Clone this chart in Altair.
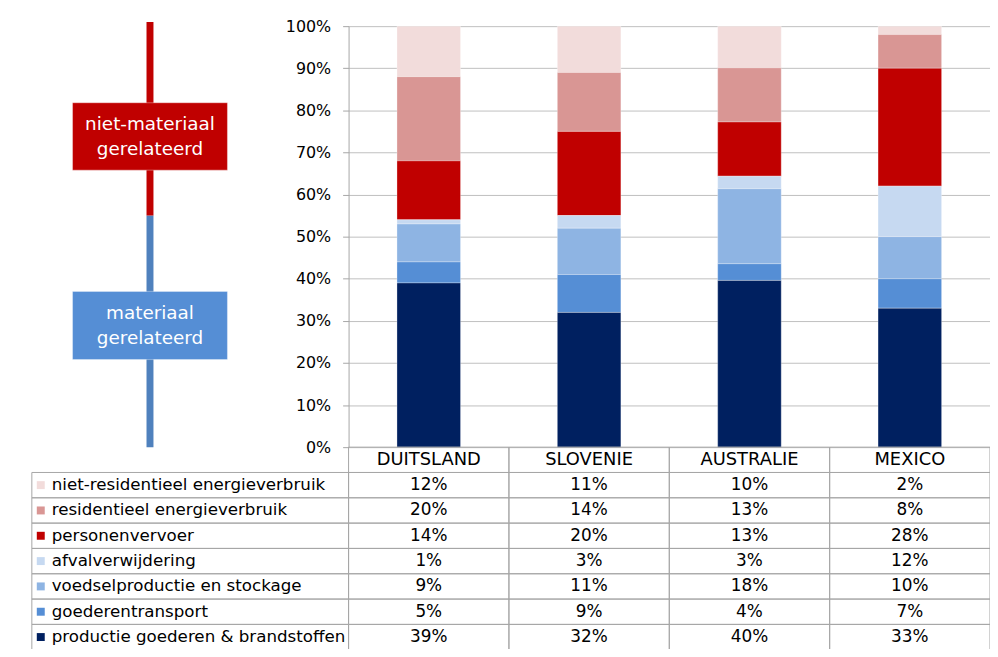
import altair as alt
import pandas as pd

FONT = "DejaVu Sans"

# ---- data -------------------------------------------------------------
countries = ["DUITSLAND", "SLOVENIE", "AUSTRALIE", "MEXICO"]
categories = [
    "niet-residentieel energieverbruik",
    "residentieel energieverbruik",
    "personenvervoer",
    "afvalverwijdering",
    "voedselproductie en stockage",
    "goederentransport",
    "productie goederen & brandstoffen",
]
colors = ["#F2DCDB", "#D99694", "#C00000", "#C6D9F1", "#8EB4E3", "#558ED5", "#002060"]

duitsland = [12, 20, 14, 1, 9, 5, 39]
slovenie = [11, 14, 20, 3, 11, 9, 32]
australie = [10, 13, 13, 3, 18, 4, 40]
mexico = [2, 8, 28, 12, 10, 7, 33]
shares = {"DUITSLAND": duitsland, "SLOVENIE": slovenie, "AUSTRALIE": australie, "MEXICO": mexico}

# left-hand grouping annotation (in share-of-total units)
group_text = ["materiaal\ngerelateerd", "niet-materiaal\ngerelateerd"]
group_line_from = [0.0, 0.55]
group_line_to = [0.55, 1.01]
group_box_from = [0.208, 0.658]
group_box_to = [0.37, 0.818]
group_line_color = ["#4F81BD", "#C00000"]
group_box_color = ["#558ED5", "#C00000"]

HEADER = "LAND"  # key of the table's header row (country names)

# ---- tables -------------------------------------------------------------
rows = []
for c in countries:
    for i, cat in enumerate(categories):
        v = shares[c][i]
        rows.append({"land": c, "categorie": cat, "waarde": v, "label": f"{v}%",
                     "volgorde": len(categories) - 1 - i})
df = pd.DataFrame(rows)
legend_df = pd.DataFrame({"categorie": categories})
header_df = pd.DataFrame({"land": countries, "categorie": [HEADER] * len(countries)})
groups_df = pd.DataFrame({
    "tekst": group_text, "lijn_van": group_line_from, "lijn_tot": group_line_to,
    "box_van": group_box_from, "box_tot": group_box_to,
    "box_mid": [(a + b) / 2 for a, b in zip(group_box_from, group_box_to)],
    "lijnkleur": group_line_color, "boxkleur": group_box_color,
})

GRID = "#C0C0C0"
LINE = "#A6A6A6"

x_scale = alt.Scale(domain=countries, paddingInner=0, paddingOuter=0)
y_scale = alt.Scale(domain=[0, 1])
y_axis = alt.Axis(title=None, values=[i / 10 for i in range(11)], format=".0%", grid=True,
                  gridColor=GRID, tickColor=LINE, domainColor=LINE, tickSize=6, labelPadding=12,
                  labelFontSize=16, labelFont=FONT, labelColor="black")
color_scale = alt.Scale(domain=categories, range=colors)

bars = alt.Chart(df).mark_bar(size=64, stroke="white", strokeWidth=0.5, strokeOpacity=0.6).encode(
    x=alt.X("land:N", sort=countries, scale=x_scale, axis=None),
    y=alt.Y("waarde:Q", stack="normalize", scale=y_scale, axis=y_axis),
    color=alt.Color("categorie:N", scale=color_scale, legend=None),
    order=alt.Order("volgorde:Q", sort="ascending"),
)

group_lines = alt.Chart(groups_df).mark_rule(strokeWidth=7).encode(
    x=alt.value(-200),
    y=alt.Y("lijn_van:Q", scale=y_scale, axis=y_axis),
    y2="lijn_tot:Q",
    stroke=alt.Stroke("lijnkleur:N", scale=None),
)
group_boxes = alt.Chart(groups_df).mark_rect(stroke="white", strokeWidth=1, strokeOpacity=0.35).encode(
    x=alt.value(-278), x2=alt.value(-122),
    y=alt.Y("box_van:Q", scale=y_scale, axis=y_axis),
    y2="box_tot:Q",
    fill=alt.Fill("boxkleur:N", scale=None),
)
group_labels = alt.Chart(groups_df).mark_text(
    color="white", font=FONT, fontSize=18.5, lineBreak="\n", lineHeight=26,
    align="center", baseline="middle", dy=-13).encode(
    x=alt.value(-200),
    y=alt.Y("box_mid:Q", scale=y_scale, axis=y_axis),
    text="tekst:N",
)

top = alt.layer(bars, group_lines, group_boxes, group_labels)

# ---- data table below the plot ------------------------------------------
t_domain = [HEADER] + categories
t_scale = alt.Scale(type="band", domain=t_domain, range=[424, 628], paddingInner=0, paddingOuter=0)
t_y = alt.Y("categorie:N", sort=t_domain, scale=t_scale, axis=None)
t_x = alt.X("land:N", sort=countries, scale=x_scale, axis=None)

header_cells = alt.Chart(header_df).mark_rect(fillOpacity=0, stroke=LINE, strokeWidth=1).encode(x=t_x, y=t_y)
header_text = alt.Chart(header_df).mark_text(font=FONT, fontSize=18, color="black", baseline="middle").encode(
    x=t_x, y=t_y, text="land:N")
value_cells = alt.Chart(df).mark_rect(fillOpacity=0, stroke=LINE, strokeWidth=1).encode(x=t_x, y=t_y)
label_cells = alt.Chart(legend_df).mark_rect(fillOpacity=0, stroke=LINE, strokeWidth=1).encode(
    x=alt.value(-319), x2=alt.value(0), y=t_y)
value_text = alt.Chart(df).mark_text(font=FONT, fontSize=17, color="black", baseline="middle").encode(
    x=t_x, y=t_y, text="label:N")
label_text = alt.Chart(legend_df).mark_text(font=FONT, fontSize=16.8, color="black", align="left",
                                            baseline="middle").encode(
    x=alt.value(-299), y=t_y, text="categorie:N")
squares = alt.Chart(legend_df).mark_point(shape="square", filled=True, size=64, opacity=1).encode(
    x=alt.value(-310), y=t_y,
    color=alt.Color("categorie:N", scale=color_scale, legend=None))

table = alt.layer(header_cells, value_cells, label_cells, header_text, value_text, label_text, squares)

chart = alt.layer(top, table).resolve_scale(y="independent").properties(
    width=646, height=424,
    autosize=alt.AutoSizeParams(type="none"),
    padding={"left": 343, "top": 16, "right": 0, "bottom": 201},
    background="white",
).configure_view(stroke=None)

chart.save("out.html", embed_options={"renderer": "svg", "actions": False})
